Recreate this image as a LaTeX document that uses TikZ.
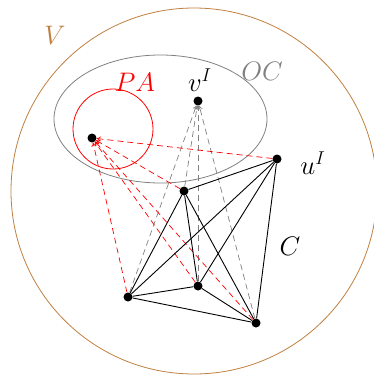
\documentclass[tikz,border=0pt]{standalone}
\usetikzlibrary{arrows.meta}
\definecolor{vbrown}{RGB}{192,128,64}
\definecolor{ocgray}{RGB}{128,128,128}
\newcommand\lbltxt[1]{\scalebox{1.55}{\LARGE$#1$}}
\begin{document}
\begin{tikzpicture}[x=1pt,y=-1pt,
  dot/.style={circle,fill=black,inner sep=0pt,minimum size=9pt},
  lbl/.style={inner sep=0pt},
  edge/.style={black,line width=0.9pt},
  redarr/.style={red,dashed,dash pattern=on 6pt off 4pt,line width=0.7pt,-{To[length=4pt,width=5pt]}},
  grayarr/.style={ocgray,dashed,dash pattern=on 6pt off 4pt,line width=0.7pt,-{To[length=4pt,width=5pt]}}]
\useasboundingbox (0,0) rectangle (374,378);
% regions
\draw[vbrown,line width=0.8pt] (194,191) circle (183);
\node[lbl,text=vbrown] (Vlab) at (55,35) {\lbltxt{V}};
\draw[ocgray,line width=0.8pt] (160.5,119) ellipse (106.5 and 64);
\node[lbl,text=ocgray] (OClab) at (262,71) {\lbltxt{OC}};
\draw[red,line width=0.8pt] (113,129) circle (40);
\node[lbl,text=red] (PAlab) at (135,82) {\lbltxt{PA}};
% nodes
\node[dot] (p) at (92,138) {};
\node[dot] (v) at (198,101) {};
\node[dot] (u) at (277,159) {};
\node[dot] (a) at (184,191) {};
\node[dot] (b) at (128,297) {};
\node[dot] (c) at (198,286) {};
\node[dot] (d) at (256,323) {};
\node[lbl] (vlab) at (200,80) {\lbltxt{v^I}};
\node[lbl] (ulab) at (313,163) {\lbltxt{u^I}};
\node[lbl] (Clab) at (290,246) {\lbltxt{C}};
% gray dashed to v
\foreach \s in {a,b,c,d} \draw[grayarr] (\s) -- (v);
% red dashed to p
\foreach \s in {u,a,b,c,d} \draw[redarr] (\s) -- (p);
% clique
\foreach \s/\t in {u/a,u/b,u/c,u/d,a/b,a/c,a/d,b/c,b/d,c/d} \draw[edge] (\s) -- (\t);
\end{tikzpicture}
\end{document}
